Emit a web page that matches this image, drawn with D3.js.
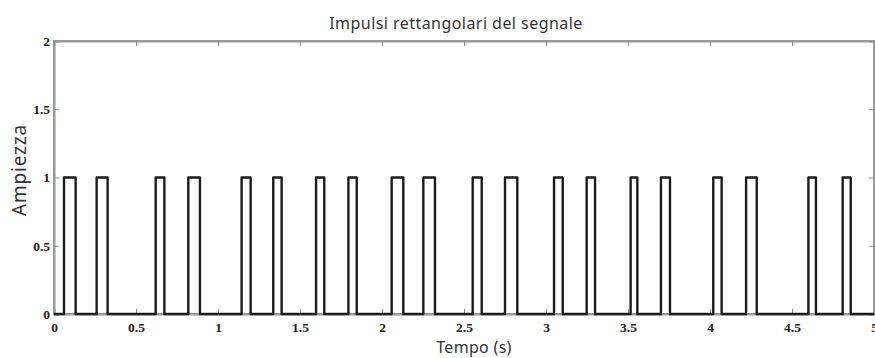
<!DOCTYPE html>
<html>
	<head>
		<title>Impulsi</title>
		<style>
			body { margin: 0; background: #fff; }
			svg { display: block; }
		</style>
	</head>
	<body>
		<script src="https://d3js.org/d3.v7.min.js"></script>
		<div id="chart"></div>
	</body>
</html>

<script>
	// pulse edges (seconds)
	var pulseStart = [0.061, 0.26, 0.62, 0.819, 1.144, 1.337, 1.598, 1.795, 2.059, 2.252,
					  2.553, 2.75, 3.049, 3.248, 3.516, 3.701, 4.02, 4.22, 4.6, 4.809];
	var pulseEnd   = [0.132, 0.327, 0.673, 0.89, 1.199, 1.388, 1.648, 1.846, 2.13, 2.323,
					  2.608, 2.825, 3.102, 3.299, 3.557, 3.756, 4.071, 4.285, 4.646, 4.858];
	var amplitude = 1;
	var xTicks = [0, 0.5, 1, 1.5, 2, 2.5, 3, 3.5, 4, 4.5, 5];
	var yTicks = [0, 0.5, 1, 1.5, 2];

	var w = 875;
	var h = 358;
	var svg = d3.select("#chart")
				.append("svg")
				.attr("width", w)
				.attr("height", h);

	var x = d3.scaleLinear().domain([0, 5]).range([54, 874]);
	var y = d3.scaleLinear().domain([0, 2]).range([314, 41]);

	// frame
	svg.append("rect")
		.attr("x", x(0))
		.attr("y", y(2))
		.attr("width", x(5) - x(0))
		.attr("height", y(0) - y(2))
		.style("fill", "none")
		.style("stroke", "#9a9a9a")
		.style("stroke-width", 2);

	// axes with inward ticks
	var fmt = function(d) { return d == 0 ? "0" : d3.format("")(d); };
	svg.append("g")
		.attr("transform", "translate(0," + y(0) + ")")
		.call(d3.axisBottom(x).tickValues(xTicks).tickSize(-5).tickPadding(8).tickFormat(fmt));
	svg.append("g")
		.attr("transform", "translate(" + x(0) + ",0)")
		.call(d3.axisLeft(y).tickValues(yTicks).tickSize(-5).tickPadding(4).tickFormat(fmt));
	svg.append("g")
		.attr("transform", "translate(0," + y(2) + ")")
		.call(d3.axisTop(x).tickValues(xTicks).tickSize(-5).tickFormat(""));
	svg.append("g")
		.attr("transform", "translate(" + x(5) + ",0)")
		.call(d3.axisRight(y).tickValues(yTicks).tickSize(-5).tickFormat(""));

	svg.selectAll(".domain").style("stroke", "#9a9a9a").style("stroke-width", 2);
	svg.selectAll(".tick line").style("stroke", "#888").style("stroke-width", 1);
	svg.selectAll(".tick text")
		.style("font-family", "'Liberation Serif', serif")
		.style("font-weight", "bold")
		.style("font-size", "13.5px")
		.style("fill", "#222");

	// signal
	var pts = [[0, 0]];
	for (var i = 0; i < pulseStart.length; i++) {
		pts.push([pulseStart[i], 0]);
		pts.push([pulseStart[i], amplitude]);
		pts.push([pulseEnd[i], amplitude]);
		pts.push([pulseEnd[i], 0]);
	}
	pts.push([5, 0]);

	var line = d3.line()
		.x(function(d) { return x(d[0]); })
		.y(function(d) { return y(d[1]); });

	svg.append("path")
		.attr("d", line(pts))
		.style("fill", "none")
		.style("stroke", "#1c1c1c")
		.style("stroke-width", 2.4)
		.style("stroke-linejoin", "round");

	// texts
	svg.append("text")
		.attr("x", 456)
		.attr("y", 29)
		.attr("text-anchor", "middle")
		.style("font-family", "'Noto Sans', sans-serif")
		.style("font-size", "16px")
		.style("letter-spacing", "0.45px")
		.style("fill", "#333")
		.text("Impulsi rettangolari del segnale");

	svg.append("text")
		.attr("x", 474)
		.attr("y", 353)
		.attr("text-anchor", "middle")
		.style("font-family", "'Noto Sans', sans-serif")
		.style("font-size", "16px")
		.style("letter-spacing", "0.3px")
		.style("fill", "#333")
		.text("Tempo (s)");

	svg.append("text")
		.attr("transform", "translate(26,170) rotate(-90)")
		.attr("text-anchor", "middle")
		.style("font-family", "'Noto Sans', sans-serif")
		.style("font-size", "19px")
		.style("letter-spacing", "0.8px")
		.style("fill", "#333")
		.text("Ampiezza");
</script>
